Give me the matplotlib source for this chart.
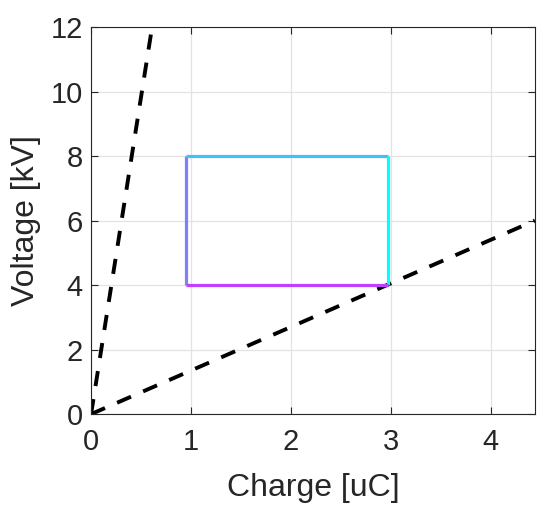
import matplotlib
matplotlib.use("Agg")
import matplotlib.pyplot as plt

plt.rcParams['font.family'] = ['Liberation Sans', 'DejaVu Sans']

# loop corners (charge uC, voltage kV)
q_left = [0.95, 0.95]
v_left = [4, 8]
q_top = [0.95, 2.97]
v_top = [8, 8]
q_right = [2.97, 2.97]
v_right = [8, 4]
q_bottom = [2.97, 0.95]
v_bottom = [4, 4]

# dashed bounding lines
q_steep = [0, 0.6]
v_steep = [0, 11.8]
q_shallow = [0, 4.44]
v_shallow = [0, 6.0]

xticks = [0, 1, 2, 3, 4]
yticks = [0, 2, 4, 6, 8, 10, 12]

dark = '#262626'

fig = plt.figure(figsize=(5.52, 5.05), dpi=100)
ax = fig.add_axes([0.165, 0.180, 0.804, 0.7665])

ax.plot(q_steep, v_steep, '--', color='k', lw=2.8, dashes=(3.9, 3.4))
ax.plot(q_shallow, v_shallow, '--', color='k', lw=2.8, dashes=(3.9, 3.4))

ax.plot(q_left, v_left, color='#8080ff', lw=2.3, solid_capstyle='butt')
ax.plot(q_top, v_top, color='#40c0ff', lw=2.3, solid_capstyle='butt')
ax.plot(q_right, v_right, color='#00ffff', lw=2.3, solid_capstyle='butt')
ax.plot(q_bottom, v_bottom, color='#c040ff', lw=2.3, solid_capstyle='butt')

ax.set_xlim(0, 4.44)
ax.set_ylim(0, 12)
ax.set_xticks(xticks)
ax.set_yticks(yticks)
ax.grid(True, color='#e3e3e3', lw=0.9)
ax.set_axisbelow(True)

ax.tick_params(direction='in', length=5, width=0.8, colors=dark,
               labelsize=21, top=True, right=True)
ax.tick_params(axis='x', pad=10)
ax.tick_params(axis='y', pad=6)
for s in ax.spines.values():
    s.set_color(dark)
    s.set_linewidth(0.8)

ax.set_xlabel('Charge [uC]', fontsize=23, color=dark, labelpad=12)
ax.set_ylabel('Voltage [kV]', fontsize=23, color=dark, labelpad=7)

fig.savefig('out.png', dpi=100)
